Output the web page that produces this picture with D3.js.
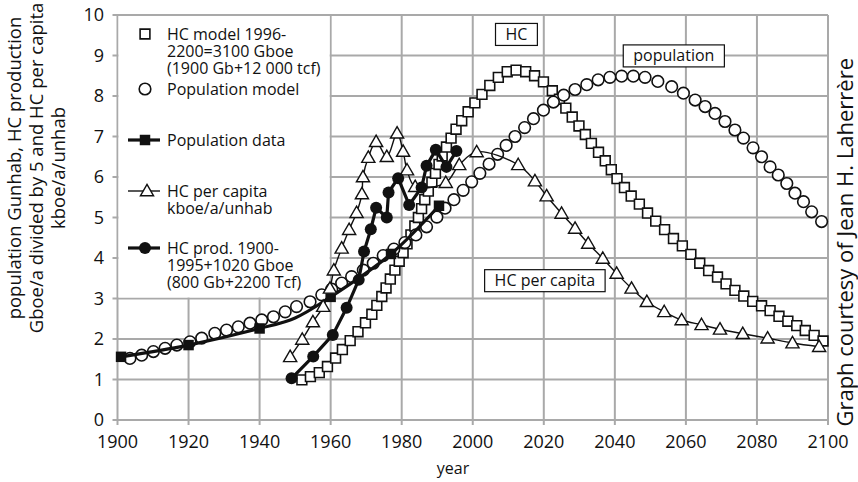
<!DOCTYPE html>
<html><head><meta charset="utf-8">
<script src="https://cdn.jsdelivr.net/npm/d3@7"></script>
<style>body{margin:0;background:#fff} text{font-family:"Open Sans",sans-serif;fill:#111}</style>
</head><body><svg id="c" width="858" height="482"></svg>
<script>
// ---------- data ----------
const xTicks = [1900,1920,1940,1960,1980,2000,2020,2040,2060,2080,2100];
const yTicks = [0,1,2,3,4,5,6,7,8,9,10];

// HC model 1996-2200 (open squares)
const hcModelYears = [1951.9,1954.3,1956.8,1959.1,1961.4,1963.3,1965.5,1967.7,1969.8,1971.6,1973.0,1974.4,1975.6,1976.8,1978.1,1979.3,1980.4,1981.5,1982.6,1983.7,1984.7,1985.6,1986.5,1987.5,1988.5,1989.5,1990.5,1991.4,1992.6,1993.9,1995.3,1996.9,1998.7,2000.6,2002.6,2004.8,2007.2,2009.7,2012.2,
  2014.9,2017.4,2019.9,2022.4,2024.4,2026.2,2028.0,2029.9,2031.7,2033.4,2035.4,2037.3,2039.0,2040.6,2042.7,2044.6,2046.9,2049.2,2051.5,2054.0,2056.5,2059.0,2061.4,2063.9,2066.4,2068.9,2071.3,2073.8,2076.3,2078.8,2081.3,2083.7,2086.2,2088.7,2091.2,2093.6,2096.1,2098.6];
const hcModelValues = [0.99,1.07,1.17,1.32,1.53,1.74,1.96,2.18,2.40,2.61,2.83,3.05,3.26,3.48,3.70,3.92,4.13,4.35,4.57,4.79,5.00,5.22,5.44,5.65,5.87,6.09,6.31,6.52,6.74,6.96,7.18,7.39,7.61,7.83,8.04,8.26,8.46,8.60,8.64,
  8.60,8.50,8.35,8.13,7.92,7.70,7.48,7.26,7.05,6.83,6.61,6.40,6.18,5.96,5.74,5.53,5.33,5.11,4.91,4.70,4.48,4.30,4.09,3.87,3.69,3.53,3.36,3.20,3.06,2.93,2.82,2.70,2.56,2.44,2.33,2.21,2.09,1.95];

// Population model (open circles)
const popModelYears = [1903.5,1906.8,1910.1,1913.4,1916.7,1920.4,1923.7,1927.4,1930.7,1934.0,1937.3,1940.6,1943.9,1947.2,1950.4,1954.2,1957.5,1960.3,1963.1,1965.9,1969.2,1972.0,1974.8,1977.8,1980.9,1984.0,1987.0,1989.9,1992.2,1994.7,1997.3,1999.7,2002.0,2004.6,2007.0,2009.4,2011.9,2014.6,2017.1,2019.9,2022.7,2025.6,2028.8,2032.1,2035.3,2038.6,2041.9,2045.2,2048.5,2052.1,2056.0,2059.3,2062.6,2065.4,2068.2,2071.0,2073.8,2076.2,2078.9,2081.3,2083.7,2086.0,2088.4,2090.7,2093.1,2095.4,2098.2];
const popModelValues = [1.52,1.60,1.69,1.77,1.85,1.93,2.02,2.14,2.22,2.30,2.39,2.47,2.55,2.67,2.80,2.92,3.09,3.23,3.38,3.54,3.70,3.87,4.06,4.22,4.38,4.57,4.77,5.01,5.23,5.44,5.67,5.88,6.09,6.32,6.56,6.78,7.00,7.22,7.44,7.65,7.85,8.02,8.16,8.28,8.40,8.46,8.49,8.49,8.46,8.36,8.23,8.07,7.90,7.74,7.57,7.37,7.16,6.96,6.72,6.50,6.25,6.05,5.84,5.60,5.39,5.14,4.90];

// Population data (thick line, filled squares)
const popDataYears  = [1901,1920,1940,1950,1960,1977,1990.5];
const popDataValues = [1.56,1.85,2.26,2.52,3.04,4.10,5.29];
const popDataMarked = [1901,1920,1940,1960,1977,1990.5];

// HC per capita kboe/a/unhab (thin line, open triangles)
const hcCapYears  = [1948.6,1952.0,1955.0,1957.9,1959.8,1960.9,1963.1,1965.2,1967.3,1968.8,1969.1,1970.6,1972.8,1975.8,1978.7,1980.4,1981.5,1983.8,1992.4,1996.2,2001.1,2012.8,2017.5,2020.8,2025.0,2028.8,2032.5,2036.6,2040.5,2044.7,2049.0,2053.9,2058.8,2064.4,2069.6,2076.0,2083.0,2090.0,2097.5];
const hcCapValues = [1.56,1.99,2.42,2.80,3.25,3.70,4.24,4.70,5.12,5.58,6.00,6.48,6.87,6.50,7.08,6.63,6.17,5.76,5.86,6.30,6.62,6.30,5.90,5.53,5.10,4.73,4.36,3.99,3.62,3.25,2.92,2.67,2.47,2.35,2.24,2.13,2.02,1.90,1.81];

// HC production 1900-1995 (thick line, filled circles)
const hcProdYears  = [1949.0,1955.1,1960.6,1964.5,1967.9,1969.4,1971.3,1972.8,1975.8,1976.3,1979.0,1982.1,1985.6,1987.0,1989.6,1992.6,1995.4];
const hcProdValues = [1.03,1.57,2.10,2.77,3.46,4.16,4.71,5.24,5.00,5.62,5.97,5.31,5.74,6.28,6.67,6.25,6.64];

const legendLabels = [
  ["HC model 1996-","2200=3100 Gboe","(1900 Gb+12 000 tcf)"],
  ["Population model"],
  ["Population data"],
  ["HC per capita","kboe/a/unhab"],
  ["HC prod. 1900-","1995+1020 Gboe","(800 Gb+2200 Tcf)"]
];
const boxLabels = [
  {text:"HC", year:2012.3, value:9.52},
  {text:"population", year:2056.6, value:8.99},
  {text:"HC per capita", year:2020.3, value:3.44}
];
const yTitle = ["population Gunhab, HC production","Gboe/a divided by 5 and HC per capita","kboe/a/unhab"];

// ---------- drawing ----------
const svg = d3.select("#c");
const x = d3.scaleLinear().domain([1900,2100]).range([117.5,828]);
const y = d3.scaleLinear().domain([0,10]).range([420,15]);
const gridColor = "#a9a9a9";

const grid = svg.append("g");
grid.selectAll("line.v").data(xTicks).join("line")
  .attr("x1",d=>x(d)).attr("x2",d=>x(d)).attr("y1",y(10)).attr("y2",y(0)+5)
  .attr("stroke",gridColor).attr("stroke-width",2);
grid.selectAll("line.h").data(yTicks).join("line")
  .attr("y1",d=>y(d)).attr("y2",d=>y(d)).attr("x1",x(1900)-5).attr("x2",x(2100))
  .attr("stroke",gridColor).attr("stroke-width",2);

// legend background (covers grid between 1900-1960 and 3-10)
svg.append("rect").attr("x",x(1900)+1).attr("y",y(10)+1)
  .attr("width",x(1960)-x(1900)-2).attr("height",y(3)-y(10)-2).attr("fill","#fff");

// tick labels
svg.append("g").selectAll("text").data(xTicks).join("text")
  .attr("x",d=>x(d)).attr("y",448).attr("text-anchor","middle")
  .attr("font-size",18).text(d=>d);
svg.append("g").selectAll("text").data(yTicks).join("text")
  .attr("x",104).attr("y",d=>y(d)+6).attr("text-anchor","end")
  .attr("font-size",18).text(d=>d);

svg.append("text").attr("x",453).attr("y",474).attr("text-anchor","middle")
  .attr("font-size",16).text("year");
const yt = svg.append("text").attr("transform","translate(0,168) rotate(-90)").attr("text-anchor","middle").attr("font-size",18.5);
yTitle.forEach((t,i)=>yt.append("tspan").attr("x",0).attr("y",21+i*22).text(t));
svg.append("text").attr("transform","translate(853,58) rotate(-90)").attr("text-anchor","end")
  .attr("font-size",22).text("Graph courtesy of Jean H. Laherrère");

const plot = svg.append("g");
const sq = d3.symbol().type(d3.symbolSquare);
const tri = d3.symbol().type(d3.symbolTriangle);

// HC model squares
plot.selectAll("path.hcm").data(hcModelYears).join("path")
  .attr("d",sq.size(96)()).attr("transform",(d,i)=>`translate(${x(d)},${y(hcModelValues[i])})`)
  .attr("fill","#fff").attr("stroke","#111").attr("stroke-width",1.6);
// Population model circles
plot.selectAll("circle.pm").data(popModelYears).join("circle")
  .attr("cx",d=>x(d)).attr("cy",(d,i)=>y(popModelValues[i])).attr("r",5.8)
  .attr("fill","#fff").attr("stroke","#111").attr("stroke-width",1.6);
// Population data
const curve = d3.curveCatmullRom.alpha(0.5);
plot.append("path").datum(popDataYears.map((d,i)=>[d,popDataValues[i]]))
  .attr("d",d3.line().x(d=>x(d[0])).y(d=>y(d[1])).curve(curve))
  .attr("fill","none").attr("stroke","#111").attr("stroke-width",3.2);
plot.selectAll("path.pd").data(popDataYears.filter(d=>popDataMarked.includes(d))).join("path")
  .attr("d",sq.size(110)()).attr("transform",d=>`translate(${x(d)},${y(popDataValues[popDataYears.indexOf(d)])})`)
  .attr("fill","#111");
// HC per capita
plot.append("path").datum(hcCapYears.map((d,i)=>[d,hcCapValues[i]]))
  .attr("d",d3.line().x(d=>x(d[0])).y(d=>y(d[1])).curve(curve))
  .attr("fill","none").attr("stroke","#111").attr("stroke-width",1.4);
plot.selectAll("path.hc").data(hcCapYears).join("path")
  .attr("d",tri.size(75)()).attr("transform",(d,i)=>`translate(${x(d)},${y(hcCapValues[i])+1})`)
  .attr("fill","#fff").attr("stroke","#111").attr("stroke-width",1.4);
// HC production
plot.append("path").datum(hcProdYears.map((d,i)=>[d,hcProdValues[i]]))
  .attr("d",d3.line().x(d=>x(d[0])).y(d=>y(d[1])))
  .attr("fill","none").attr("stroke","#111").attr("stroke-width",3.2);
plot.selectAll("circle.hp").data(hcProdYears).join("circle")
  .attr("cx",d=>x(d)).attr("cy",(d,i)=>y(hcProdValues[i])).attr("r",6).attr("fill","#111");

// annotation boxes
boxLabels.forEach(b=>{
  const g = svg.append("g");
  const t = g.append("text").attr("x",x(b.year)).attr("y",y(b.value)+5.5).attr("text-anchor","middle")
    .attr("font-size",16).text(b.text);
  const bb = t.node().getBBox();
  g.insert("rect","text").attr("x",bb.x-10).attr("y",y(b.value)-11).attr("width",bb.width+20).attr("height",22)
    .attr("fill","#fff").attr("stroke","#111").attr("stroke-width",1.2);
});

// legend
const lg = svg.append("g");
const legY = [34,89,140,191,248];
const lx = 145, tx = 167;
legendLabels.forEach((lines,i)=>{
  lines.forEach((s,j)=>lg.append("text").attr("x",tx).attr("y",legY[i]+5.5+j*17).attr("font-size",16).text(s));
});
lg.append("path").attr("d",sq.size(96)()).attr("transform",`translate(${lx},${legY[0]})`)
  .attr("fill","#fff").attr("stroke","#111").attr("stroke-width",1.6);
lg.append("circle").attr("cx",lx).attr("cy",legY[1]).attr("r",5.8).attr("fill","#fff").attr("stroke","#111").attr("stroke-width",1.6);
lg.append("line").attr("x1",128).attr("x2",160).attr("y1",legY[2]).attr("y2",legY[2]).attr("stroke","#111").attr("stroke-width",3.2);
lg.append("path").attr("d",sq.size(110)()).attr("transform",`translate(${lx},${legY[2]})`).attr("fill","#111");
lg.append("line").attr("x1",128).attr("x2",160).attr("y1",legY[3]).attr("y2",legY[3]).attr("stroke","#111").attr("stroke-width",1.4);
lg.append("path").attr("d",tri.size(75)()).attr("transform",`translate(${lx+2},${legY[3]+1})`)
  .attr("fill","#fff").attr("stroke","#111").attr("stroke-width",1.4);
lg.append("line").attr("x1",128).attr("x2",160).attr("y1",legY[4]).attr("y2",legY[4]).attr("stroke","#111").attr("stroke-width",3.2);
lg.append("circle").attr("cx",lx).attr("cy",legY[4]).attr("r",6).attr("fill","#111");
</script></body></html>
